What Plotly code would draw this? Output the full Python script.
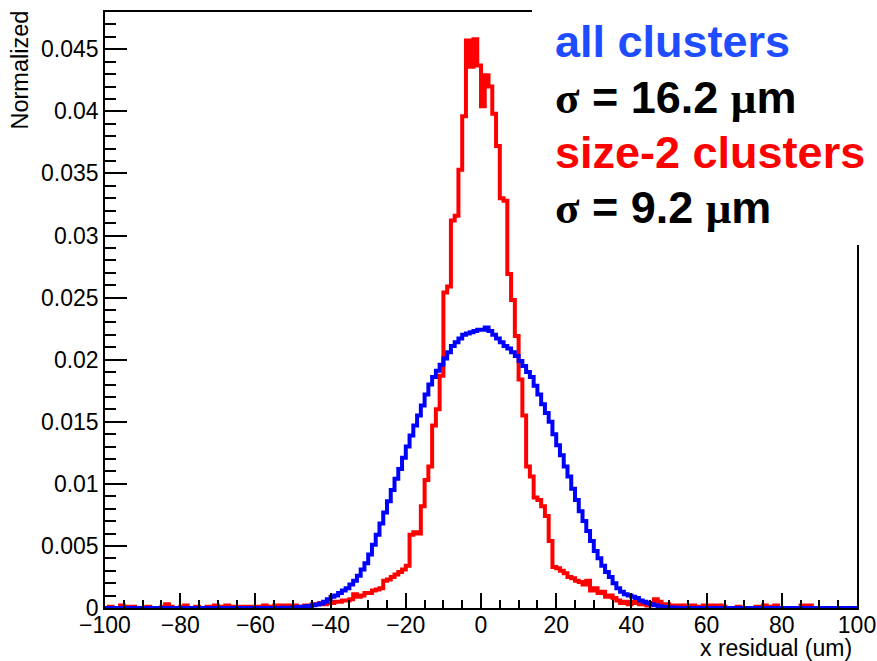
import plotly.graph_objects as go

# 1-um bins from -100 to 100 (left edges)
bin_left = list(range(-100, 100))

blue_all = [
    0, 0, 0, 0, 0, 0, 0, 0, 0, 0,
    0, 0, 0, 0, 0, 0, 0, 0, 0, 0,
    0, 0, 0, 0, 0, 0, 0, 0, 0, 0,
    0, 0, 0, 0, 0, 0, 0, 0, 0, 0,
    0, 0, 0, 0, 0, 0.00001, 0.00001, 0.00002, 0.00002, 0.00003,
    0.00005, 0.00008, 0.0001, 0.00013, 0.00017, 0.00022, 0.00028, 0.00036, 0.0005, 0.0007,
    0.0009, 0.0010, 0.0012, 0.0014, 0.0016, 0.0019, 0.0022, 0.0026, 0.0031, 0.0036,
    0.0043, 0.0051, 0.0059, 0.0068, 0.0077, 0.0086, 0.0095, 0.0104, 0.0112, 0.0121,
    0.0130, 0.0139, 0.0147, 0.0155, 0.0163, 0.0172, 0.0180, 0.0186, 0.0191, 0.0196,
    0.0201, 0.0206, 0.0211, 0.0214, 0.0217, 0.0220, 0.0221, 0.0222, 0.0223, 0.0224,
    0.0224, 0.0226, 0.0223, 0.0220, 0.0217, 0.0214, 0.0211, 0.0209, 0.0206, 0.0203,
    0.0199, 0.0195, 0.0190, 0.0186, 0.0179, 0.0172, 0.0164, 0.0157, 0.0150, 0.0140,
    0.0131, 0.0123, 0.0114, 0.0106, 0.0096, 0.0087, 0.0078, 0.0070, 0.0062, 0.0054,
    0.0046, 0.0040, 0.0034, 0.0029, 0.0025, 0.0020, 0.0016, 0.0013, 0.0011, 0.0010,
    0.0009, 0.0008, 0.0006, 0.0005, 0.0004, 0.0003, 0.00022, 0.00015, 0.0001, 0.00007,
    0.00005, 0.00003, 0.00002, 0.00001, 0, 0, 0, 0, 0, 0,
    0, 0, 0, 0, 0, 0, 0, 0, 0, 0,
    0, 0, 0, 0, 0, 0, 0, 0, 0, 0,
    0, 0, 0, 0, 0, 0, 0, 0, 0, 0,
    0, 0, 0, 0, 0, 0, 0, 0, 0, 0,
]

red_size2 = [
    0, 0.0001, 0, 0, 0.0002, 0.0001, 0, 0.0001, 0, 0,
    0, 0.0001, 0, 0, 0, 0.0001, 0.0003, 0.0001, 0, 0,
    0.0001, 0.0002, 0, 0, 0.0001, 0, 0, 0.0001, 0, 0.0002,
    0.0001, 0, 0.0002, 0.0001, 0, 0.0001, 0, 0.0001, 0, 0.0001,
    0, 0.0001, 0.0002, 0.0001, 0.0001, 0.0002, 0.0002, 0.0001, 0.0002, 0.0001,
    0.0002, 0.0001, 0, 0.0002, 0.0002, 0.0003, 0.0003, 0.0004, 0.0003, 0.0004,
    0.0004, 0.0005, 0.0005, 0.0006, 0.0006, 0.0007, 0.0011, 0.0009, 0.0010, 0.0012,
    0.0012, 0.0014, 0.0015, 0.0016, 0.0022, 0.0023, 0.0025, 0.0027, 0.0029, 0.0031,
    0.0034, 0.0059, 0.0061, 0.0060, 0.0082, 0.0103, 0.0114, 0.0147, 0.0160, 0.0187,
    0.0254, 0.0259, 0.0312, 0.0316, 0.0353, 0.0396, 0.0457, 0.0436, 0.0458, 0.0437,
    0.0404, 0.0429, 0.0420, 0.0398, 0.0372, 0.0330, 0.0328, 0.0269, 0.0248, 0.0219,
    0.0184, 0.0155, 0.0114, 0.0106, 0.0089, 0.0087, 0.0082, 0.0074, 0.0054, 0.0033,
    0.0032, 0.0030, 0.0028, 0.0025, 0.0024, 0.0022, 0.0021, 0.0019, 0.0022, 0.0014,
    0.0016, 0.0012, 0.0013, 0.0009, 0.0010, 0.0008, 0.0006, 0.0004, 0.0005, 0.0003,
    0.0005, 0.0004, 0.0003, 0.0004, 0.0002, 0.0003, 0.0007, 0.0005, 0.0002, 0.0003,
    0.0002, 0.0001, 0.0002, 0.0001, 0.0002, 0.0001, 0.0002, 0.0001, 0, 0.0002,
    0.0001, 0.0002, 0.0001, 0.0002, 0.0001, 0, 0, 0, 0.0001, 0,
    0, 0, 0, 0.0001, 0, 0.0002, 0.0001, 0, 0.0002, 0,
    0, 0, 0, 0, 0, 0.0002, 0.0001, 0.0002, 0, 0,
    0, 0, 0, 0, 0, 0, 0, 0, 0, 0,
]

label_lines = [
    ("all clusters", "#1E4DFF"),
    ("<span style='font-family:Liberation Serif'>σ</span> = 16.2 <span style='font-family:Liberation Serif'>μ</span>m", "#000000"),
    ("size-2 clusters", "#FF0000"),
    ("<span style='font-family:Liberation Serif'>σ</span> = 9.2 <span style='font-family:Liberation Serif'>μ</span>m", "#000000"),
]

edges = bin_left + [bin_left[-1] + 1]

fig = go.Figure()
fig.add_trace(go.Scatter(x=edges, y=red_size2 + [red_size2[-1]], mode="lines",
                         line=dict(color="#FF0000", width=4, shape="hv"), showlegend=False))
fig.add_trace(go.Scatter(x=edges, y=blue_all + [blue_all[-1]], mode="lines",
                         line=dict(color="#0000FF", width=4, shape="hv"), showlegend=False))

W, H = 877, 661
L, R, T, B = 105, 20, 12, 53
pw, ph = W - L - R, H - T - B

def px_to_paper_x(px):
    return (px - L) / pw

def px_to_paper_y(py):
    return (H - B - py) / ph

fig.update_layout(
    width=W, height=H,
    margin=dict(l=L, r=R, t=T, b=B, autoexpand=False),
    plot_bgcolor="white", paper_bgcolor="white",
    showlegend=False,
    font=dict(family="Liberation Sans, Arial, sans-serif", color="black"),
    xaxis=dict(range=[-100, 100], tickmode="linear", tick0=-100, dtick=20,
               ticks="inside", ticklen=15, tickwidth=1.5, tickcolor="black",
               showline=True, linecolor="black", linewidth=1.5, mirror=True,
               showgrid=False, zeroline=False, tickfont=dict(size=23),
               ticklabelstandoff=-4, automargin=False, ticklabeloverflow="allow",
               minor=dict(ticks="inside", dtick=5, tick0=-100, ticklen=8,
                          tickwidth=1.5, tickcolor="black", showgrid=False)),
    yaxis=dict(range=[0, 0.048], tickmode="linear", tick0=0, dtick=0.005,
               ticks="inside", ticklen=22, tickwidth=1.5, tickcolor="black",
               showline=True, linecolor="black", linewidth=1.5, mirror=True,
               showgrid=False, zeroline=False, tickfont=dict(size=23),
               automargin=False,
               minor=dict(ticks="inside", dtick=0.001, tick0=0, ticklen=11,
                          tickwidth=1.5, tickcolor="black", showgrid=False)),
)

# white label box covering the upper-right frame
fig.add_shape(type="rect", xref="paper", yref="paper",
              x0=px_to_paper_x(532), x1=px_to_paper_x(W + 10),
              y0=px_to_paper_y(245), y1=px_to_paper_y(-5),
              fillcolor="white", line=dict(width=0), layer="above")

centers = [42, 97, 152, 207]
for (txt, col), cy in zip(label_lines, centers):
    fig.add_annotation(xref="paper", yref="paper", x=px_to_paper_x(553), y=px_to_paper_y(cy),
                       xanchor="left", yanchor="middle", showarrow=False,
                       text="<b>" + txt + "</b>",
                       font=dict(size=45, color=col, family="Liberation Sans, Arial, sans-serif"))

fig.add_annotation(xref="paper", yref="paper", x=px_to_paper_x(854), y=px_to_paper_y(648),
                   xanchor="right", yanchor="middle", showarrow=False,
                   text="x residual (um)", font=dict(size=23))
fig.add_annotation(xref="paper", yref="paper", x=px_to_paper_x(20), y=px_to_paper_y(9),
                   xanchor="center", yanchor="top", showarrow=False, textangle=-90,
                   text="Normalized", font=dict(size=23.5))

fig.write_html("out.html")
